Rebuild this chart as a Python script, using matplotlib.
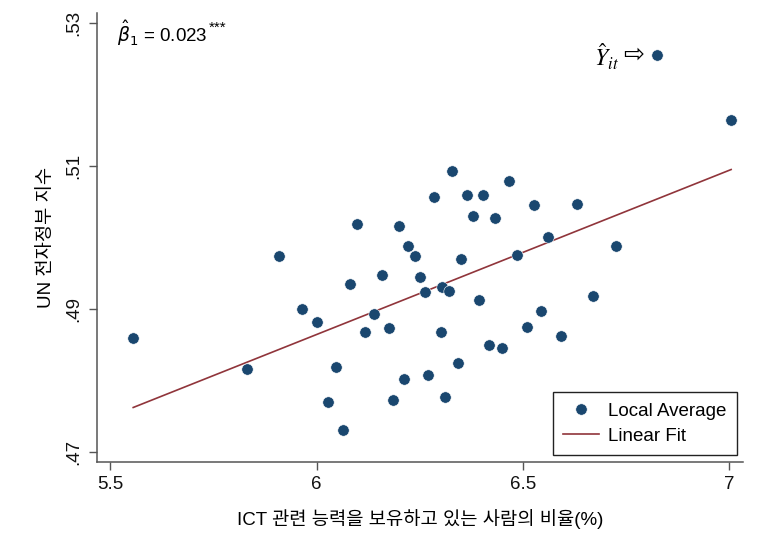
import matplotlib
matplotlib.use("Agg")
import matplotlib.pyplot as plt
import numpy as np

plt.rcParams['font.family'] = ['Liberation Sans', 'Noto Sans CJK KR', 'DejaVu Sans']
plt.rcParams['mathtext.fontset'] = 'dejavusans'

# Share of people with ICT skills (%) vs. UN E-Government index, local averages
ict_share = [5.556, 5.832, 5.909, 5.965, 6.001, 6.047, 6.028, 6.064, 6.081, 6.098,
             6.117, 6.139, 6.159, 6.176, 6.185, 6.200, 6.212, 6.222, 6.239, 6.251,
             6.263, 6.270, 6.285, 6.302, 6.304, 6.311, 6.321, 6.328, 6.343, 6.350,
             6.364, 6.379, 6.394, 6.403, 6.418, 6.432, 6.449, 6.466, 6.486, 6.510,
             6.527, 6.544, 6.561, 6.592, 6.631, 6.670, 6.725, 6.825, 7.004]
egov_index = [.4859, .4816, .4974, .4900, .4882, .4819, .4770, .4731, .4935, .5019,
              .4868, .4893, .4948, .4873, .4773, .5016, .4802, .4988, .4974, .4945,
              .4924, .4808, .5057, .4868, .4931, .4777, .4925, .5093, .4824, .4970,
              .5059, .5030, .4913, .5059, .4850, .5027, .4845, .5079, .4976, .4875,
              .5045, .4897, .5001, .4862, .5047, .4918, .4988, .5255, .5164]

# Linear fit coefficients
fit_slope = 0.023
fit_intercept = 0.3484

highlight_x = 6.825
highlight_y = 0.5255

x_ticks = [5.5, 6, 6.5, 7]
x_ticklabels = ['5.5', '6', '6.5', '7']
y_ticks = [.47, .49, .51, .53]
y_ticklabels = ['.47', '.49', '.51', '.53']

navy = '#1a476f'
maroon = '#90353b'
axis_gray = '#555555'
fs = 13.5

fig = plt.figure(figsize=(7.57, 5.37), dpi=100)
ax = fig.add_axes([0.1285, 0.1402, 0.8526, 0.8356])

ax.plot(ict_share, egov_index, linestyle='none', marker='o', markersize=8.2,
        color=navy, markeredgecolor='white', markeredgewidth=0.4,
        label='Local Average', zorder=3)

fit_x = np.array([min(ict_share), max(ict_share)])
ax.plot(fit_x, fit_intercept + fit_slope * fit_x, color=maroon, linewidth=1.2,
        label='Linear Fit', zorder=2)

ax.set_xlim(5.469, 7.032)
ax.set_ylim(0.4686, 0.5314)
ax.set_xticks(x_ticks)
ax.set_xticklabels(x_ticklabels)
ax.set_yticks(y_ticks)
ax.set_yticklabels(y_ticklabels, rotation=90, va='center')

for side in ['top', 'right']:
    ax.spines[side].set_visible(False)
for side in ['left', 'bottom']:
    ax.spines[side].set_color(axis_gray)
    ax.spines[side].set_linewidth(1.1)

ax.tick_params(axis='both', direction='out', length=5.5, width=1.0,
               color=axis_gray, labelsize=fs, labelcolor='#111111', pad=5)

ax.set_xlabel('ICT 관련 능력을 보유하고 있는 사람의 비율(%)', fontsize=fs, labelpad=11)
ax.set_ylabel('UN 전자정부 지수', fontsize=fs, labelpad=8)

# Coefficient label with significance stars
coef = ax.text(5.517, 0.5286, r'$\hat{\beta}_1$ = 0.023', fontsize=fs,
               ha='left', va='center')
ax.annotate('***', xy=(1, 0.9), xycoords=coef, xytext=(0.5, 0),
            textcoords='offset points', fontsize=11, ha='left', va='top')

# Marker for the fitted value
ax.text(6.732, highlight_y - 0.0003, r'$\hat{Y}_{it}$', fontsize=17, ha='right',
        va='center', math_fontfamily='stix')
ax.text(6.743, highlight_y, '\u21e8', fontsize=18, ha='left', va='center',
        family='DejaVu Sans')

leg = ax.legend(loc='upper right', bbox_to_anchor=(0.9907, 0.1547), fontsize=fs,
                frameon=True, fancybox=False, edgecolor='#222222', framealpha=1,
                handlelength=1.9, handletextpad=0.5, borderpad=0.55,
                labelspacing=0.42, borderaxespad=0, numpoints=1)
leg.get_frame().set_linewidth(1.0)

fig.savefig('out.png', dpi=100)
